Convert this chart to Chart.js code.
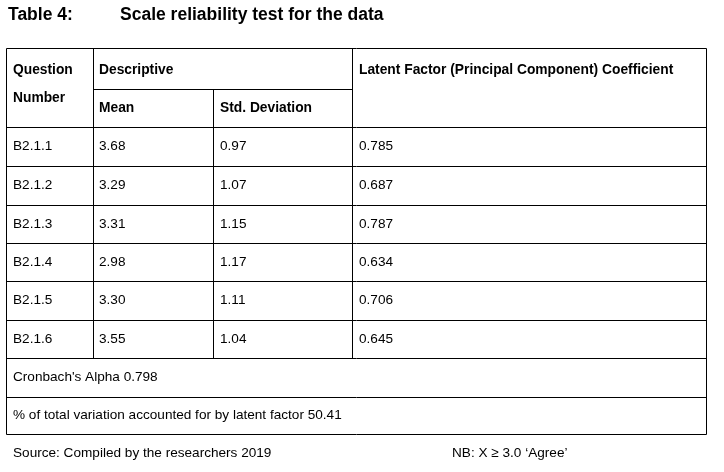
<!DOCTYPE html>
<html>
<head>
<meta charset="utf-8">
<script src="https://cdn.jsdelivr.net/npm/chart.js@4.4.0/dist/chart.umd.min.js"></script>
<style>
  html, body { margin: 0; padding: 0; background: #fff; }
  canvas { display: block; }
</style>
</head>
<body>
<canvas id="tbl" width="724" height="472"></canvas>
<script>
const questions = ["B2.1.1", "B2.1.2", "B2.1.3", "B2.1.4", "B2.1.5", "B2.1.6"];
const means = ["3.68", "3.29", "3.31", "2.98", "3.30", "3.55"];
const stdDevs = ["0.97", "1.07", "1.15", "1.17", "1.11", "1.04"];
const coefficients = ["0.785", "0.687", "0.787", "0.634", "0.706", "0.645"];
const cronbach = "Cronbach's Alpha 0.798";
const variation = "% of total variation accounted for by latent factor 50.41";

// table geometry in the chart's own units
const colX = [6, 93, 213, 352, 706];
const rowY = [48, 89, 127, 166, 205, 243, 281, 320, 358, 397, 434];

const tablePlugin = {
    id: "tablePlugin",
    afterDraw(chart) {
        const ctx = chart.ctx;
        const xs = chart.scales.x, ys = chart.scales.y;
        const X = v => xs.getPixelForValue(v);
        const Y = v => ys.getPixelForValue(v);
        const line = (x1, y1, x2, y2) => {
            ctx.beginPath();
            ctx.moveTo(Math.round(X(x1)) + 0.5, Math.round(Y(y1)) + 0.5);
            ctx.lineTo(Math.round(X(x2)) + 0.5, Math.round(Y(y2)) + 0.5);
            ctx.stroke();
        };
        const text = (s, x, y, bold, size) => {
            ctx.font = `${bold ? "bold " : ""}${size || 13.6}px "Liberation Sans", Arial, sans-serif`;
            ctx.fillText(s, X(x), Y(y));
        };
        ctx.save();
        ctx.strokeStyle = "#000";
        ctx.lineWidth = 1;
        ctx.fillStyle = "#000";
        ctx.textBaseline = "middle";

        // title
        text("Table 4:", 8, 15, true, 17.5);
        text("Scale reliability test for the data", 120, 15, true, 17.5);

        // outer border
        line(colX[0], rowY[0], colX[4], rowY[0]);
        line(colX[0], rowY[10], colX[4], rowY[10]);
        line(colX[0], rowY[0], colX[0], rowY[10]);
        line(colX[4], rowY[0], colX[4], rowY[10]);
        // vertical lines
        line(colX[1], rowY[0], colX[1], rowY[8]);
        line(colX[2], rowY[1], colX[2], rowY[8]);
        line(colX[3], rowY[0], colX[3], rowY[8]);
        // horizontal lines
        line(colX[1], rowY[1], colX[3], rowY[1]);
        for (let i = 2; i < 10; i++) line(colX[0], rowY[i], colX[4], rowY[i]);

        // headers
        text("Question", 13, 70, true, 13.8);
        text("Number", 13, 98, true, 13.8);
        text("Descriptive", 99, 70, true, 13.8);
        text("Latent Factor (Principal Component) Coefficient", 359, 70, true, 13.8);
        text("Mean", 99, 108, true, 13.8);
        text("Std. Deviation", 220, 108, true, 13.8);

        // data rows
        questions.forEach((q, i) => {
            const cy = (rowY[i + 2] + rowY[i + 3]) / 2;
            text(q, 13, cy);
            text(means[i], 99, cy);
            text(stdDevs[i], 220, cy);
            text(coefficients[i], 359, cy);
        });
        text(cronbach, 13, (rowY[8] + rowY[9]) / 2);
        text(variation, 13, (rowY[9] + rowY[10]) / 2);

        // footer
        text("Source: Compiled by the researchers 2019", 13, 453);
        text("NB: X \u2265 3.0 \u2018Agree\u2019", 452, 453);
        ctx.restore();
    }
};

new Chart(document.getElementById("tbl").getContext("2d"), {
    type: "scatter",
    data: { datasets: [{ data: [], pointRadius: 0 }] },
    options: {
        responsive: false,
        animation: false,
        layout: { padding: 0 },
        plugins: { legend: { display: false }, tooltip: { enabled: false } },
        scales: {
            x: { type: "linear", min: 0, max: 724, display: false },
            y: { type: "linear", min: 0, max: 472, reverse: true, display: false }
        }
    },
    plugins: [tablePlugin]
});
</script>
</body>
</html>
